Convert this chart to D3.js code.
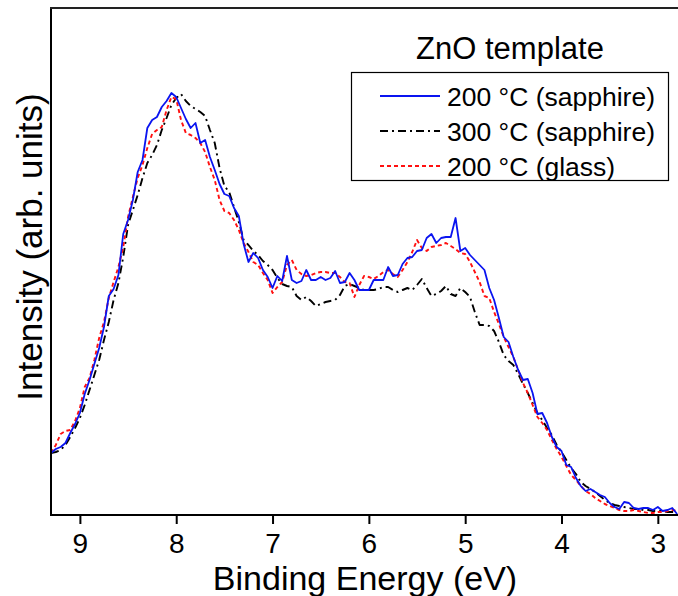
<!DOCTYPE html>
<html>
<head>
<meta charset="utf-8">
<script src="https://cdn.jsdelivr.net/npm/d3@7/dist/d3.min.js"></script>
<style>
  html, body { margin: 0; padding: 0; background: #fff; }
  svg { display: block; font-family: "Liberation Sans", Arial, Helvetica, sans-serif; }
</style>
</head>
<body>
<svg id="chart" width="678" height="596"></svg>
<script>
// ---- Data (binding energy grid: 9.30 eV down to 2.80 eV in 0.05 eV steps) ----
const energyStart = 9.3;
const energyStep = 0.05;
const pointCount = 131;

const sapphire200 = [
  62,66,68,72,82,91,102,121,135,151,167,188,219,226,240,281,295,315,343,355,
  387,395,398,408,414,422,418,407,396,387,392,372,375,358,345,331,321,319,307,299,
  271,253,262,257,245,238,227,239,234,259,235,232,234,245,235,235,238,235,237,244,
  232,233,242,235,225,225,225,235,235,235,248,239,240,251,257,258,264,265,277,281,
  272,277,278,278,297,264,267,260,255,250,245,227,215,197,178,173,158,145,135,136,
  122,101,102,92,78,68,64,50,48,37,29,24,26,23,20,18,12,8,6,13,
  12,7,6,7,7,5,8,4,5,7,1
];

const sapphire300 = [
  62,63,65,70,78,87,97,110,125,140,155,175,193,215,232,258,290,305,320,337,
  352,360,370,385,397,410,417,421,414,409,406,403,399,385,372,347,329,323,308,293,
  275,270,264,260,254,250,245,237,231,229,228,219,215,218,214,209,211,213,214,215,
  220,229,231,229,227,225,225,225,226,228,228,225,223,225,227,225,230,236,227,219,
  221,224,229,221,219,227,223,218,203,190,190,189,184,173,160,154,150,141,131,122,
  112,102,95,87,80,70,63,55,47,41,33,29,26,23,19,15,12,10,9,8,
  7,6,6,5,5,4,4,4,3,3,3
];

const glass200 = [
  62,70,81,84,85,94,107,128,137,155,177,193,217,233,248,268,298,318,337,350,
  367,381,385,388,405,418,416,395,382,380,377,372,363,348,335,315,304,302,295,285,
  272,263,253,250,242,235,222,228,233,250,255,245,241,239,240,242,243,243,242,242,
  238,233,232,218,230,239,238,236,239,243,245,241,238,245,253,263,275,267,264,268,
  269,270,272,269,266,262,261,253,243,233,219,217,203,191,178,168,158,145,132,122,
  110,98,92,85,75,66,58,49,40,35,29,24,21,17,14,11,9,7,5,4,
  4,5,4,3,2,2,3,3,4,5,4
];

const seriesNames = ["200 \u00B0C (sapphire)", "300 \u00B0C (sapphire)", "200 \u00B0C (glass)"];
const seriesColors = ["#0a14f0", "#000000", "#ff1010"];
const seriesDashes = [null, "8,4,2,4", "4,3"];
const xTicks = [9, 8, 7, 6, 5, 4, 3];
const legendTitle = "ZnO template";
const xTitle = "Binding Energy (eV)";
const yTitle = "Intensity (arb. units)";

// ---- Layout ----
const plotLeft = 51, plotRight = 677.1, plotTop = 8, plotBottom = 515;
const svg = d3.select("#chart");

const energies = d3.range(pointCount).map(i => +(energyStart - i * energyStep).toFixed(2));
const x = d3.scaleLinear().domain([9.3, 2.8]).range([plotLeft, plotRight]);
const y = d3.scaleLinear().domain([0, 507]).range([plotBottom, plotTop]);

svg.append("defs").append("clipPath").attr("id", "clip")
  .append("rect").attr("x", plotLeft).attr("y", plotTop)
  .attr("width", 678 - plotLeft).attr("height", plotBottom - plotTop);

const line = d3.line().x(d => x(d[0])).y(d => y(d[1]));
const allSeries = [sapphire200, sapphire300, glass200];
const drawOrder = [1, 2, 0];
const gLines = svg.append("g").attr("clip-path", "url(#clip)");
drawOrder.forEach(i => {
  const pts = energies.map((e, k) => [e, allSeries[i][k]]);
  gLines.append("path")
    .attr("d", line(pts))
    .attr("fill", "none")
    .attr("stroke", seriesColors[i])
    .attr("stroke-width", i === 0 ? 1.8 : 1.9)
    .attr("stroke-linejoin", "round")
    .attr("stroke-dasharray", seriesDashes[i]);
});

// ---- Axes ----
const xAxis = d3.axisBottom(x).tickValues(xTicks).tickFormat(d3.format("d")).tickSize(9).tickSizeOuter(0);
const gx = svg.append("g").attr("transform", `translate(0,${plotBottom})`).call(xAxis);
gx.select(".domain").attr("stroke", "#000").attr("stroke-width", 2)
  .attr("d", `M${plotLeft},0H678`);
gx.selectAll(".tick line").attr("stroke", "#000").attr("stroke-width", 2);
gx.selectAll(".tick text").attr("fill", "#000").attr("font-size", 28)
  .attr("y", 18).attr("dy", "0.71em")
  .attr("font-family", "'Liberation Sans', Arial, sans-serif");

// left axis line (no ticks)
svg.append("line").attr("x1", plotLeft).attr("x2", plotLeft)
  .attr("y1", plotTop - 1).attr("y2", plotBottom + 1)
  .attr("stroke", "#000").attr("stroke-width", 2);
// top frame line
svg.append("line").attr("x1", plotLeft - 1).attr("x2", 678)
  .attr("y1", plotTop).attr("y2", plotTop)
  .attr("stroke", "#222").attr("stroke-width", 2);

// axis titles
svg.append("text").attr("x", 365).attr("y", 590)
  .attr("text-anchor", "middle").attr("font-size", 34).attr("fill", "#000")
  .text(xTitle);
svg.append("text")
  .attr("transform", "translate(42,247) rotate(-90)")
  .attr("text-anchor", "middle").attr("font-size", 35).attr("fill", "#000")
  .text(yTitle);

// ---- Legend ----
svg.append("text").attr("x", 510).attr("y", 59)
  .attr("text-anchor", "middle").attr("font-size", 31).attr("fill", "#000")
  .text(legendTitle);
const lg = svg.append("g");
lg.append("rect").attr("x", 351.5).attr("y", 72.5).attr("width", 317).attr("height", 108)
  .attr("fill", "#fff").attr("stroke", "#000").attr("stroke-width", 1.2);
const rowY = [96, 131, 166];
[0, 1, 2].forEach(i => {
  lg.append("line").attr("x1", 380).attr("x2", 440).attr("y1", rowY[i]).attr("y2", rowY[i])
    .attr("stroke", seriesColors[i]).attr("stroke-width", 1.8)
    .attr("stroke-dasharray", seriesDashes[i]);
  lg.append("text").attr("x", 447).attr("y", rowY[i] + 9.5)
    .attr("font-size", 26.5).attr("fill", "#000").text(seriesNames[i]);
});
</script>
</body>
</html>
